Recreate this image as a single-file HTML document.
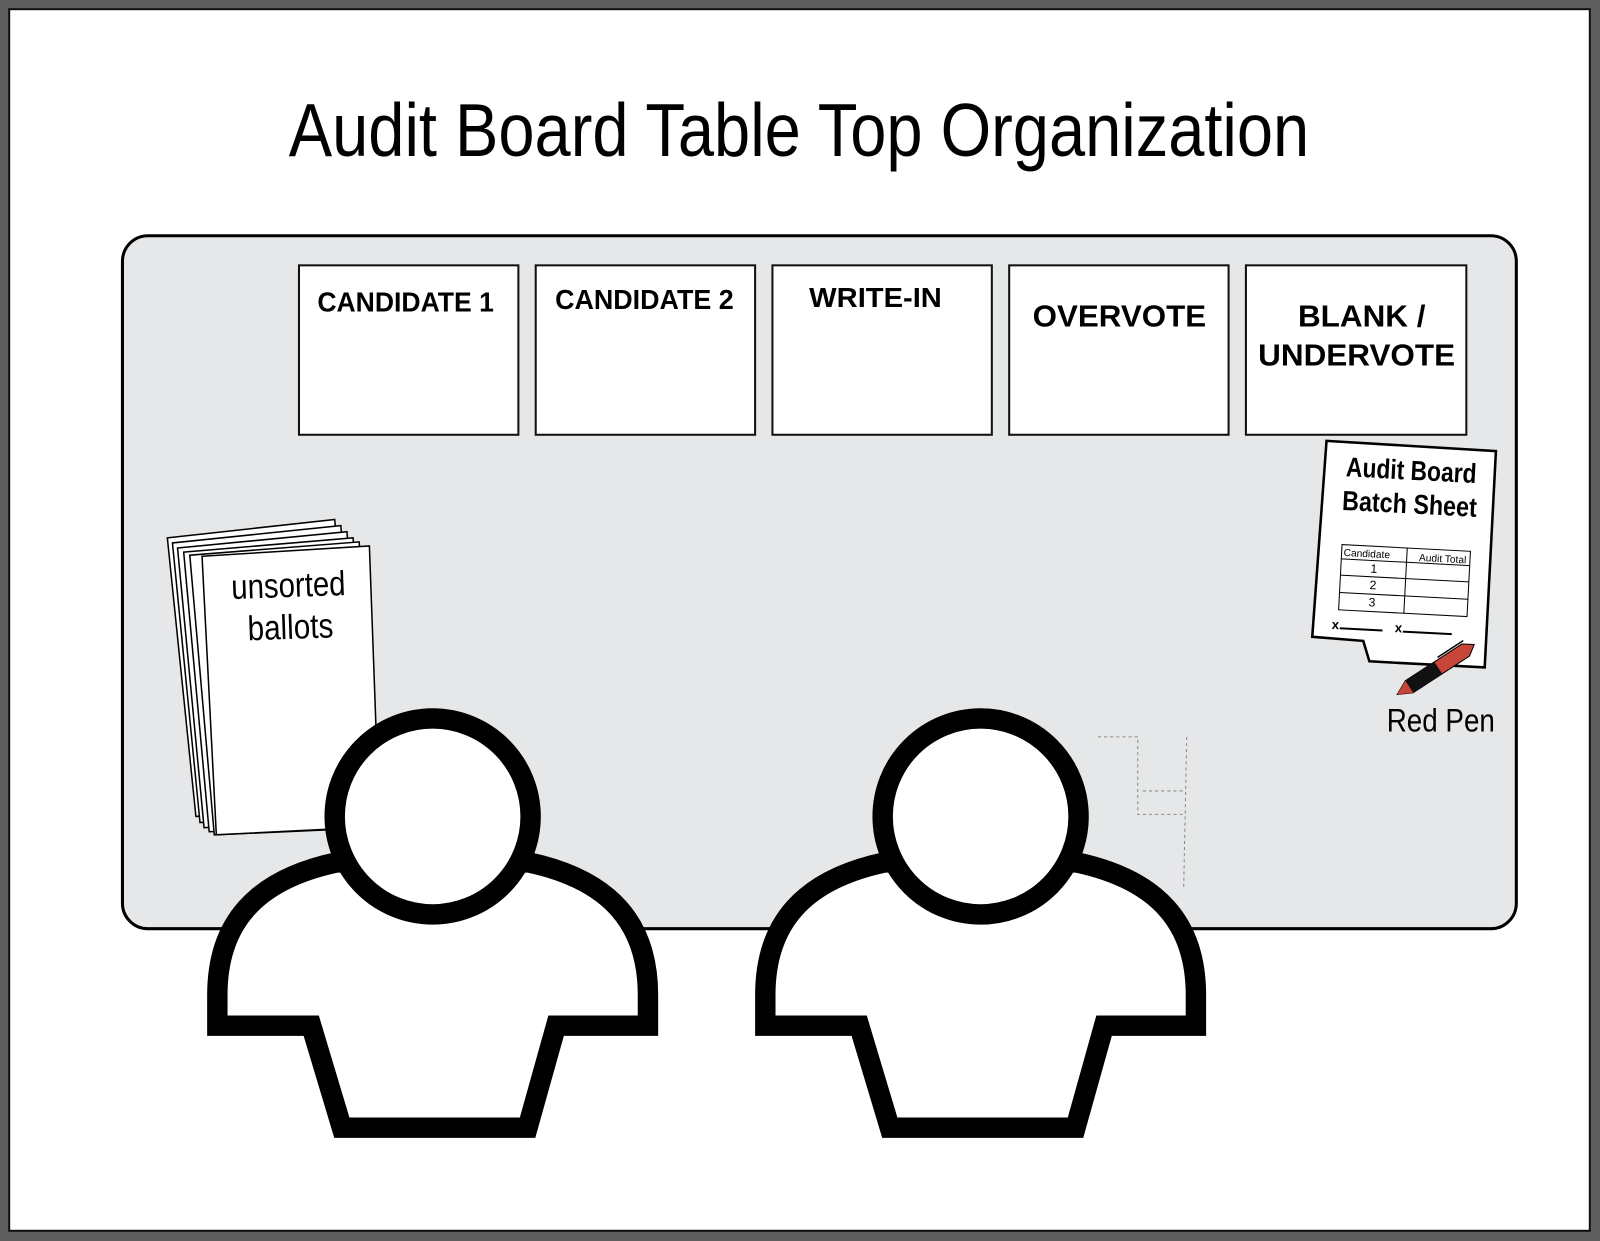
<!DOCTYPE html>
<html><head><style>
html,body{margin:0;padding:0;background:#5f5f5f;}
svg{display:block;}
text{font-family:"Liberation Sans",sans-serif;}
</style></head><body>
<svg width="1600" height="1241" viewBox="0 0 1568 1216" preserveAspectRatio="none" xmlns="http://www.w3.org/2000/svg">
<rect x="0" y="0" width="1568" height="1216" fill="#5f5f5f"/>
<rect x="9" y="9" width="1549" height="1197" fill="#fff" stroke="#111" stroke-width="2"/>
<text x="783" y="153" font-size="74" text-anchor="middle" textLength="1000" lengthAdjust="spacingAndGlyphs">Audit Board Table Top Organization</text>
<rect x="120" y="231" width="1366" height="679" rx="25" fill="#e6e7e8" stroke="#000" stroke-width="3"/>
<g fill="#fff" stroke="#111" stroke-width="2">
<rect x="293" y="260" width="215" height="166"/>
<rect x="525" y="260" width="215" height="166"/>
<rect x="757" y="260" width="215" height="166"/>
<rect x="989" y="260" width="215" height="166"/>
<rect x="1221" y="260" width="216" height="166"/>
</g>
<g font-weight="bold" font-size="27" fill="#000">
<text x="311" y="305" textLength="173" lengthAdjust="spacingAndGlyphs">CANDIDATE 1</text>
<text x="544" y="303" textLength="175" lengthAdjust="spacingAndGlyphs">CANDIDATE 2</text>
<text x="793" y="301" textLength="130" lengthAdjust="spacingAndGlyphs">WRITE-IN</text>
<text x="1012" y="320" font-size="30" textLength="170" lengthAdjust="spacingAndGlyphs">OVERVOTE</text>
<text x="1272" y="320" font-size="30" textLength="125" lengthAdjust="spacingAndGlyphs">BLANK /</text>
<text x="1233" y="358" font-size="30" textLength="193" lengthAdjust="spacingAndGlyphs">UNDERVOTE</text>
</g>
<g fill="#fff" stroke="#000" stroke-width="1.5">
<polygon points="164,527 328,509 354,792 192,800"/>
<polygon points="169,532 334,515 358,797 196,806"/>
<polygon points="174,537 340,521 362,802 200,811"/>
<polygon points="180,541 346,527 366,807 205,815"/>
<polygon points="186,544 352,531 370,811 210,818"/>
<polygon points="198,545 362,535 372,810 212,818"/>
</g>
<text x="283" y="585" font-size="34" text-anchor="middle" textLength="112" lengthAdjust="spacingAndGlyphs" transform="rotate(-2 283 585)">unsorted</text>
<text x="285" y="626" font-size="34" text-anchor="middle" textLength="84" lengthAdjust="spacingAndGlyphs" transform="rotate(-2 285 626)">ballots</text>
<polygon points="1300,432 1466,442 1455,654 1342,648 1336,628 1286,624" fill="#fff" stroke="#000" stroke-width="2.5"/>
<g transform="rotate(3 1380 520)">
<text x="1380" y="470" font-size="27" font-weight="bold" text-anchor="middle" textLength="128" lengthAdjust="spacingAndGlyphs">Audit Board</text>
<text x="1380" y="503" font-size="27" font-weight="bold" text-anchor="middle" textLength="132" lengthAdjust="spacingAndGlyphs">Batch Sheet</text>
<g stroke="#000" stroke-width="1" fill="none">
<rect x="1316" y="537" width="126" height="64"/>
<line x1="1380" y1="537" x2="1380" y2="601"/>
<line x1="1316" y1="551" x2="1442" y2="551"/>
<line x1="1316" y1="567" x2="1442" y2="567"/>
<line x1="1316" y1="584" x2="1442" y2="584"/>
</g>
<text x="1318" y="548" font-size="10">Candidate</text>
<text x="1392" y="549" font-size="10">Audit Total</text>
<text x="1345" y="563" font-size="12">1</text>
<text x="1345" y="579" font-size="12">2</text>
<text x="1345" y="596" font-size="12">3</text>
<text x="1310" y="620" font-size="13" font-weight="bold">x</text>
<line x1="1318" y1="619" x2="1360" y2="619" stroke="#000" stroke-width="2"/>
<text x="1372" y="620" font-size="13" font-weight="bold">x</text>
<line x1="1380" y1="619" x2="1428" y2="619" stroke="#000" stroke-width="2"/>
</g>
<g transform="rotate(-33 1407 656)">
<path d="M1362,656 L1376,649 L1442,649 L1452,656 L1442,663 L1376,663 Z" fill="#c8453a" stroke="#000" stroke-width="1"/>
<rect x="1376" y="649" width="34" height="14" fill="#111"/>
<path d="M1362,656 L1376,649 L1376,663 Z" fill="#c8453a"/>
<line x1="1415" y1="647" x2="1445" y2="647" stroke="#000" stroke-width="1.5"/>
</g>
<text x="1412" y="717" font-size="32" text-anchor="middle" textLength="106" lengthAdjust="spacingAndGlyphs">Red Pen</text>
<g stroke="#888" stroke-width="1" fill="none" stroke-dasharray="3,3">
<path d="M1076,722 L1115,722 L1115,798 L1160,798 M1120,775 L1162,775 M1163,722 L1160,870"/>
</g>
<g fill="#fff" stroke="#000" stroke-width="20">
<path d="M330,845 C250,862 213,905 213,975 L213,1005 L305,1005 L335,1105 L517,1105 L545,1005 L635,1005 L635,975 C635,905 598,862 518,845 Z"/>
<circle cx="424" cy="800" r="96"/>
</g>
<g transform="translate(537,0)" fill="#fff" stroke="#000" stroke-width="20">
<path d="M330,845 C250,862 213,905 213,975 L213,1005 L305,1005 L335,1105 L517,1105 L545,1005 L635,1005 L635,975 C635,905 598,862 518,845 Z"/>
<circle cx="424" cy="800" r="96"/>
</g>
</svg>
</body></html>
